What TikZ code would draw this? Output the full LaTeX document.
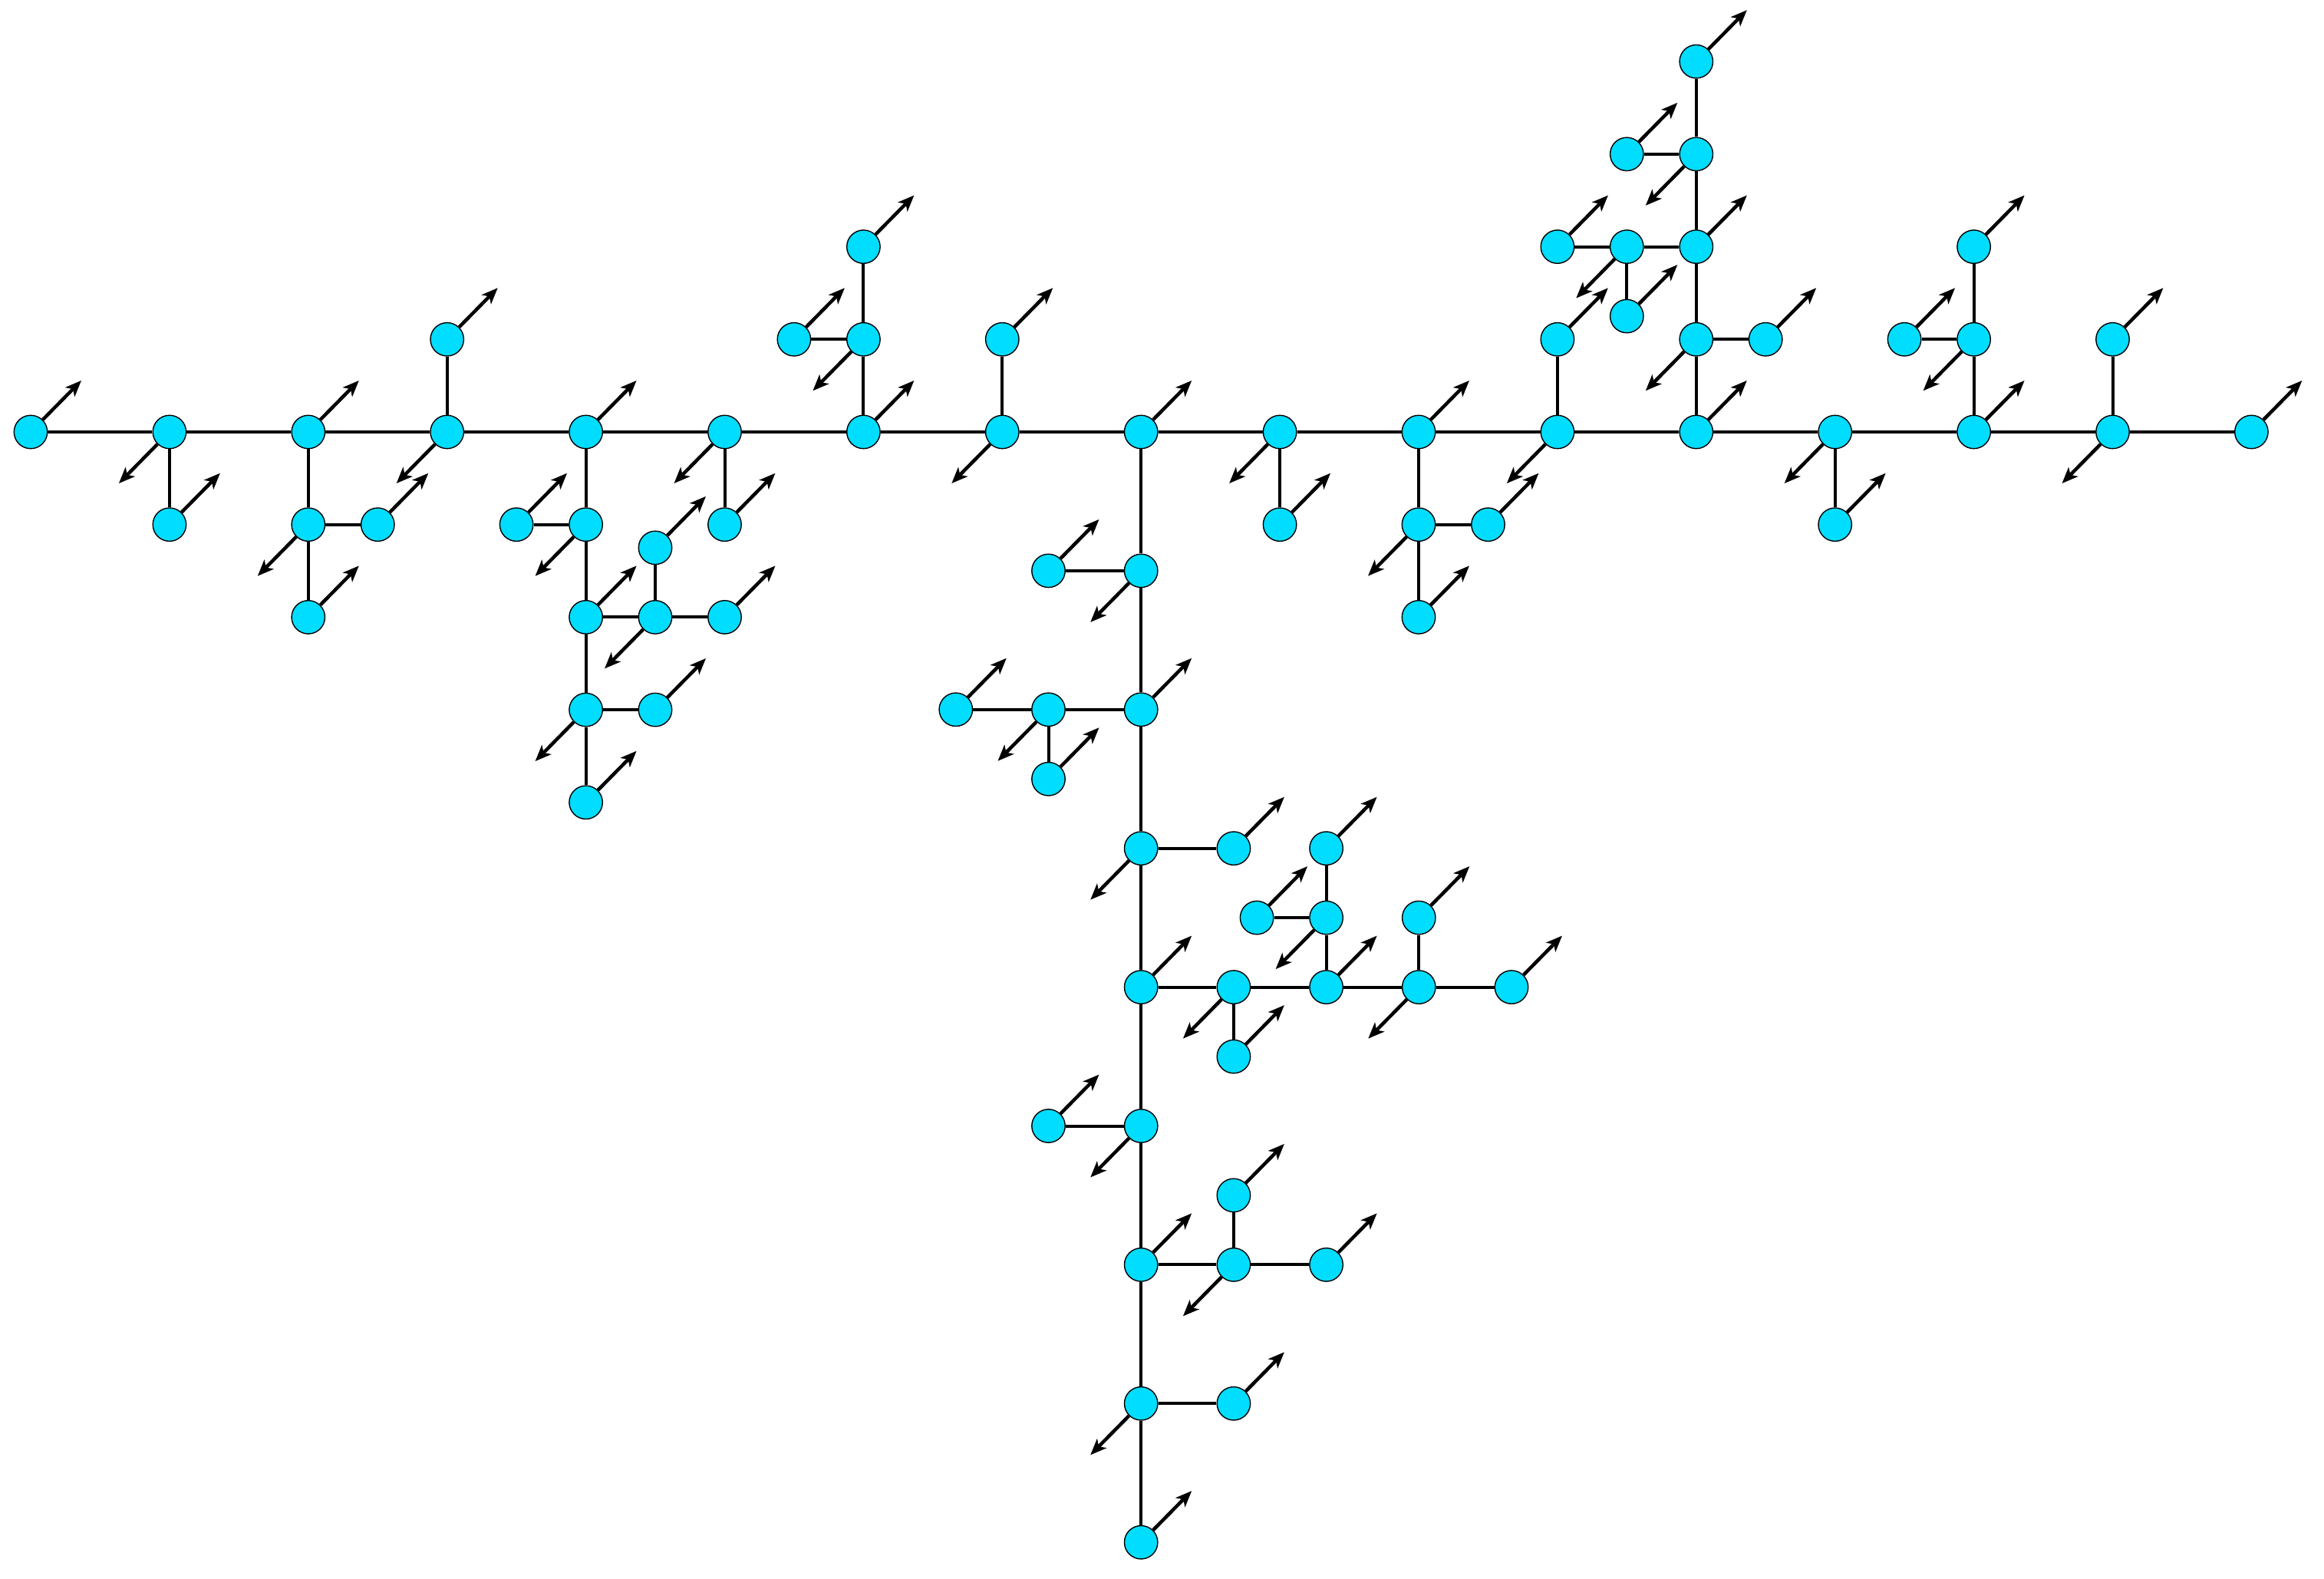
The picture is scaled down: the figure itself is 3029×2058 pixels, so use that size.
\documentclass[tikz,border=0pt]{standalone}
\usetikzlibrary{arrows.meta}
\definecolor{nodecyan}{RGB}{0,221,255}
\begin{document}
\begin{tikzpicture}[x=0.01cm,y=-0.01cm,
  vtx/.style={circle,draw=black,line width=0.4pt,fill=nodecyan,minimum size=0.434cm,inner sep=0pt},
  link/.style={line width=0.04cm,draw=black},
  arr/.style={line width=0.045cm,draw=black,-{Stealth[length=0.21cm,width=0.17cm,inset=0.055cm]}}]
\useasboundingbox (0,0) rectangle (3029,2058);
% main row
\node[vtx] (M0) at (40,563) {};
\node[vtx] (M1) at (220.9,563) {};
\node[vtx] (M2) at (401.8,563) {};
\node[vtx] (M3) at (582.7,563) {};
\node[vtx] (M4) at (763.6,563) {};
\node[vtx] (M5) at (944.5,563) {};
\node[vtx] (M6) at (1125.4,563) {};
\node[vtx] (M7) at (1306.3,563) {};
\node[vtx] (M8) at (1487.2,563) {};
\node[vtx] (M9) at (1668.1,563) {};
\node[vtx] (M10) at (1849,563) {};
\node[vtx] (M11) at (2029.9,563) {};
\node[vtx] (M12) at (2210.8,563) {};
\node[vtx] (M13) at (2391.7,563) {};
\node[vtx] (M14) at (2572.6,563) {};
\node[vtx] (M15) at (2753.5,563) {};
\node[vtx] (M16) at (2934.4,563) {};
% left branches
\node[vtx] (M1a) at (220.9,683.7) {};
\node[vtx] (M2a) at (401.8,683.7) {};
\node[vtx] (M2b) at (492.3,683.7) {};
\node[vtx] (M2c) at (401.8,804.4) {};
\node[vtx] (M3a) at (582.7,442.3) {};
\node[vtx] (M4a) at (763.6,683.7) {};
\node[vtx] (M4aL) at (673.1,683.7) {};
\node[vtx] (M4b) at (763.6,804.4) {};
\node[vtx] (M4bR) at (854,804.4) {};
\node[vtx] (M4bRU) at (854,713.9) {};
\node[vtx] (M4bRR) at (944.5,804.4) {};
\node[vtx] (M4c) at (763.6,925.1) {};
\node[vtx] (M4cR) at (854,925.1) {};
\node[vtx] (M4d) at (763.6,1045.8) {};
\node[vtx] (M5a) at (944.5,683.7) {};
\node[vtx] (M6a) at (1125.4,442.3) {};
\node[vtx] (M6aL) at (1034.9,442.3) {};
\node[vtx] (M6b) at (1125.4,321.6) {};
\node[vtx] (M7a) at (1306.3,442.3) {};
% stem
\node[vtx] (S1) at (1487.2,743.9) {};
\node[vtx] (S1L) at (1366.5,743.9) {};
\node[vtx] (S2) at (1487.2,924.8) {};
\node[vtx] (S2L) at (1366.5,924.8) {};
\node[vtx] (S2LL) at (1245.8,924.8) {};
\node[vtx] (S2LD) at (1366.5,1015.3) {};
\node[vtx] (S3) at (1487.2,1105.7) {};
\node[vtx] (S3R) at (1607.9,1105.7) {};
\node[vtx] (S4) at (1487.2,1286.6) {};
\node[vtx] (S4R) at (1607.9,1286.6) {};
\node[vtx] (S4RD) at (1607.9,1377.1) {};
\node[vtx] (S4RR) at (1728.6,1286.6) {};
\node[vtx] (S4RRU) at (1728.6,1196.1) {};
\node[vtx] (S4RRUL) at (1638.1,1196.1) {};
\node[vtx] (S4RRUU) at (1728.6,1105.7) {};
\node[vtx] (S4RRR) at (1849.3,1286.6) {};
\node[vtx] (S4RRRU) at (1849.3,1196.1) {};
\node[vtx] (S4RRRR) at (1970,1286.6) {};
\node[vtx] (S5) at (1487.2,1467.5) {};
\node[vtx] (S5L) at (1366.5,1467.5) {};
\node[vtx] (S6) at (1487.2,1648.4) {};
\node[vtx] (S6R) at (1607.9,1648.4) {};
\node[vtx] (S6RU) at (1607.9,1557.9) {};
\node[vtx] (S6RR) at (1728.6,1648.4) {};
\node[vtx] (S7) at (1487.2,1829.3) {};
\node[vtx] (S7R) at (1607.9,1829.3) {};
\node[vtx] (S8) at (1487.2,2010.2) {};
% right branches
\node[vtx] (M9a) at (1668.1,683.7) {};
\node[vtx] (M10a) at (1849,683.7) {};
\node[vtx] (M10aR) at (1939.5,683.7) {};
\node[vtx] (M10b) at (1849,804.4) {};
\node[vtx] (M11a) at (2029.9,442.3) {};
\node[vtx] (M12a) at (2210.8,442.3) {};
\node[vtx] (M12aR) at (2301.2,442.3) {};
\node[vtx] (M12b) at (2210.8,321.6) {};
\node[vtx] (M12bL) at (2120.3,321.6) {};
\node[vtx] (M12bLL) at (2029.9,321.6) {};
\node[vtx] (M12bLD) at (2120.3,412.1) {};
\node[vtx] (M12c) at (2210.8,200.9) {};
\node[vtx] (M12cL) at (2120.3,200.9) {};
\node[vtx] (M12d) at (2210.8,80.2) {};
\node[vtx] (M13a) at (2391.7,683.7) {};
\node[vtx] (M14a) at (2572.6,442.3) {};
\node[vtx] (M14aL) at (2482.1,442.3) {};
\node[vtx] (M14b) at (2572.6,321.6) {};
\node[vtx] (M15a) at (2753.5,442.3) {};
% links
\draw[link] (M0)--(M1)--(M2)--(M3)--(M4)--(M5)--(M6)--(M7)--(M8)--(M9)--(M10)--(M11)--(M12)--(M13)--(M14)--(M15)--(M16);
\draw[link] (M1)--(M1a);
\draw[link] (M2)--(M2a)--(M2c); \draw[link] (M2a)--(M2b);
\draw[link] (M3)--(M3a);
\draw[link] (M4)--(M4a)--(M4b)--(M4c)--(M4d);
\draw[link] (M4aL)--(M4a);
\draw[link] (M4b)--(M4bR)--(M4bRR); \draw[link] (M4bR)--(M4bRU);
\draw[link] (M4c)--(M4cR);
\draw[link] (M5)--(M5a);
\draw[link] (M6)--(M6a)--(M6b); \draw[link] (M6aL)--(M6a);
\draw[link] (M7)--(M7a);
\draw[link] (M8)--(S1)--(S2)--(S3)--(S4)--(S5)--(S6)--(S7)--(S8);
\draw[link] (S1L)--(S1);
\draw[link] (S2LL)--(S2L)--(S2); \draw[link] (S2L)--(S2LD);
\draw[link] (S3)--(S3R);
\draw[link] (S4)--(S4R)--(S4RR)--(S4RRR)--(S4RRRR);
\draw[link] (S4R)--(S4RD);
\draw[link] (S4RR)--(S4RRU)--(S4RRUU); \draw[link] (S4RRUL)--(S4RRU);
\draw[link] (S4RRR)--(S4RRRU);
\draw[link] (S5L)--(S5);
\draw[link] (S6)--(S6R)--(S6RR); \draw[link] (S6R)--(S6RU);
\draw[link] (S7)--(S7R);
\draw[link] (M9)--(M9a);
\draw[link] (M10)--(M10a)--(M10b); \draw[link] (M10a)--(M10aR);
\draw[link] (M11)--(M11a);
\draw[link] (M12)--(M12a)--(M12b)--(M12c)--(M12d);
\draw[link] (M12a)--(M12aR);
\draw[link] (M12bLL)--(M12bL)--(M12b); \draw[link] (M12bL)--(M12bLD);
\draw[link] (M12cL)--(M12c);
\draw[link] (M13)--(M13a);
\draw[link] (M14)--(M14a)--(M14b); \draw[link] (M14aL)--(M14a);
\draw[link] (M15)--(M15a);
% arrows up-right
\foreach \n in {M0,M2,M4,M6,M8,M10,M12,M14,M16,M1a,M2b,M2c,M3a,M4aL,M4b,M4bRU,M4bRR,M4cR,M4d,M5a,M6aL,M6b,M7a,S1L,S2,S2LL,S2LD,S3R,S4,S4RD,S4RR,S4RRUL,S4RRUU,S4RRRU,S4RRRR,S5L,S6,S6RU,S6RR,S7R,S8,M9a,M10aR,M10b,M11a,M12aR,M12b,M12bLL,M12bLD,M12cL,M12d,M13a,M14aL,M14b,M15a}
  \draw[arr] (\n) -- ++(66,-67);
% arrows down-left
\foreach \n in {M1,M3,M5,M7,M9,M11,M13,M15,M2a,M4a,M4bR,M4c,M6a,S1,S2L,S3,S4R,S4RRU,S4RRR,S5,S6R,S7,M10a,M12a,M12bL,M12c,M14a}
  \draw[arr] (\n) -- ++(-66,67);
\end{tikzpicture}
\end{document}
